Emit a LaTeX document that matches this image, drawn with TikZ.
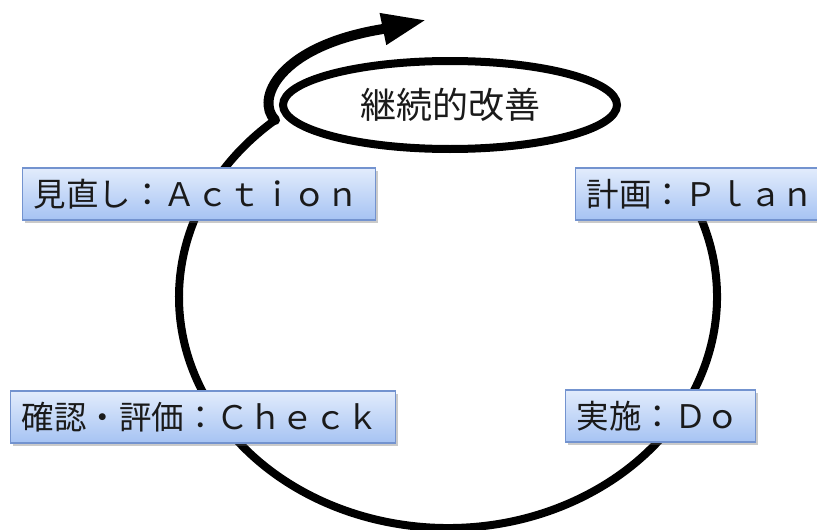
\documentclass[tikz,border=0pt]{standalone}
\usepackage{fontspec}
\newfontfamily\jp{Noto Sans CJK JP}
\usetikzlibrary{shadows,arrows.meta,shapes.geometric}
\definecolor{boxtop}{HTML}{E2ECFC}
\definecolor{boxbot}{HTML}{A6C3F3}
\definecolor{boxedge}{HTML}{7393CF}
\definecolor{txt}{HTML}{1A1A1A}
\begin{document}
\begin{tikzpicture}[x=1pt,y=-1pt,
  phase/.style={draw=boxedge, line width=1.1pt, top color=boxtop, bottom color=boxbot,
    minimum height=52pt, inner xsep=11pt, anchor=west, text=txt, align=left,
    font=\jp\fontsize{32.5}{32.5}\selectfont,
    drop shadow={shadow xshift=2pt, shadow yshift=-3pt, opacity=0.35, fill=black!60}},
  loopline/.style={line width=8pt, black}]
\useasboundingbox (0,0) rectangle (817,530);
% big cycle (ellipse center (448,297), rx 269, ry 231)
\coordinate (c) at (448,297);
\draw[loopline] ([shift={(30:269pt and 231pt)}]c)
  arc[start angle=-30, end angle=230, x radius=269, y radius=231] coordinate (junction);
% spiral continuing to the arrow
\coordinate (tipbase) at (383,29);
\coordinate (tip) at (426,20);
\draw[line width=10pt, line cap=round] (junction) .. controls (255,100) and (278,46) .. (tipbase);
\draw[line width=9pt, -{Triangle[length=44pt,width=30pt]}] (tipbase) -- (tip);
% improvement ellipse
\node[draw, line width=8pt, fill=white, ellipse, minimum width=334pt, minimum height=88pt,
  inner sep=0pt, text=txt, font=\jp\fontsize{36}{36}\selectfont] (kaizen) at (450,105) {継続的改善};
% phase boxes
\node[phase, text width=331pt] (act) at (22,194) {見直し：Ａｃｔｉｏｎ};
\node[phase, text width=250pt] (plan) at (575,194) {計画：Ｐｌａｎ};
\node[phase, text width=363pt] (chk) at (10,417) {確認・評価：Ｃｈｅｃｋ};
\node[phase, text width=168pt] (do) at (565,416) {実施：Ｄｏ};
\end{tikzpicture}
\end{document}
